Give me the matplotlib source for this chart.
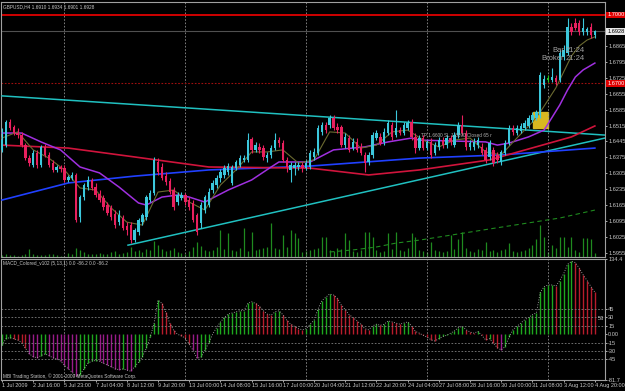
import matplotlib
matplotlib.use("Agg")
import matplotlib.pyplot as plt
import matplotlib.patches as patches
from matplotlib.transforms import blended_transform_factory

# --- GBPUSD H4 candles (1 Jul 08:00 .. 4 Aug 20:00, 153 bars) ---
opens = [1.6408, 1.6429, 1.6530, 1.6508, 1.6482, 1.6473, 1.6429, 1.6372, 1.6342, 1.6394,
         1.6342, 1.6421, 1.6386, 1.6350, 1.6320, 1.6333, 1.6328, 1.6276, 1.6285, 1.6298,
         1.6113, 1.6201, 1.6245, 1.6276, 1.6245, 1.6214, 1.6197, 1.6166, 1.6153, 1.6126,
         1.6091, 1.6109, 1.6074, 1.6078, 1.6012, 1.6048, 1.6091, 1.6113, 1.6188, 1.6219,
         1.6355, 1.6333, 1.6293, 1.6271, 1.6232, 1.6179, 1.6197, 1.6210, 1.6188, 1.6175,
         1.6122, 1.6087, 1.6144, 1.6166, 1.6232, 1.6254, 1.6285, 1.6298, 1.6311, 1.6263,
         1.6328, 1.6342, 1.6364, 1.6364, 1.6456, 1.6408, 1.6421, 1.6416, 1.6372, 1.6386,
         1.6416, 1.6451, 1.6438, 1.6364, 1.6320, 1.6328, 1.6333, 1.6342, 1.6328, 1.6333,
         1.6377, 1.6394, 1.6487, 1.6517, 1.6517, 1.6548, 1.6508, 1.6508, 1.6429, 1.6460,
         1.6416, 1.6443, 1.6421, 1.6386, 1.6355, 1.6386, 1.6460, 1.6465, 1.6443, 1.6482,
         1.6517, 1.6473, 1.6495, 1.6482, 1.6504, 1.6530, 1.6465, 1.6416, 1.6460, 1.6416,
         1.6443, 1.6394, 1.6421, 1.6451, 1.6429, 1.6460, 1.6429, 1.6473, 1.6517, 1.6482,
         1.6421, 1.6421, 1.6429, 1.6421, 1.6408, 1.6377, 1.6408, 1.6386, 1.6355, 1.6394,
         1.6438, 1.6504, 1.6482, 1.6491, 1.6504, 1.6513, 1.6539, 1.6548, 1.6561, 1.6693,
         1.6715, 1.6715, 1.6724, 1.6715, 1.6816, 1.6833, 1.6947, 1.6965, 1.6965, 1.6926,
         1.6926, 1.6947, 1.6910]
highs = [1.6504, 1.6539, 1.6544, 1.6517, 1.6504, 1.6487, 1.6438, 1.6386, 1.6408, 1.6408,
         1.6429, 1.6434, 1.6399, 1.6364, 1.6342, 1.6342, 1.6342, 1.6298, 1.6311, 1.6307,
         1.6210, 1.6263, 1.6293, 1.6285, 1.6263, 1.6232, 1.6210, 1.6179, 1.6166, 1.6144,
         1.6144, 1.6122, 1.6091, 1.6091, 1.6065, 1.6109, 1.6131, 1.6210, 1.6232, 1.6377,
         1.6372, 1.6350, 1.6311, 1.6285, 1.6245, 1.6223, 1.6223, 1.6219, 1.6201, 1.6188,
         1.6131, 1.6179, 1.6210, 1.6241, 1.6276, 1.6298, 1.6324, 1.6342, 1.6350, 1.6342,
         1.6364, 1.6386, 1.6386, 1.6482, 1.6465, 1.6443, 1.6438, 1.6429, 1.6399, 1.6429,
         1.6482, 1.6465, 1.6451, 1.6377, 1.6355, 1.6355, 1.6355, 1.6355, 1.6364, 1.6408,
         1.6416, 1.6517, 1.6530, 1.6530, 1.6561, 1.6561, 1.6526, 1.6517, 1.6482, 1.6473,
         1.6460, 1.6460, 1.6438, 1.6399, 1.6399, 1.6487, 1.6495, 1.6482, 1.6504, 1.6539,
         1.6530, 1.6583, 1.6508, 1.6530, 1.6539, 1.6544, 1.6482, 1.6473, 1.6473, 1.6451,
         1.6460, 1.6443, 1.6465, 1.6465, 1.6473, 1.6473, 1.6487, 1.6530, 1.6561, 1.6495,
         1.6451, 1.6460, 1.6465, 1.6438, 1.6421, 1.6451, 1.6421, 1.6399, 1.6408, 1.6451,
         1.6517, 1.6517, 1.6517, 1.6526, 1.6539, 1.6561, 1.6574, 1.6583, 1.6750, 1.6737,
         1.6737, 1.6767, 1.6737, 1.6846, 1.6868, 1.6987, 1.6965, 1.6987, 1.6978, 1.6987,
         1.6947, 1.6965, 1.6934]
lows = [1.6399, 1.6421, 1.6495, 1.6473, 1.6460, 1.6421, 1.6364, 1.6337, 1.6333, 1.6328,
        1.6333, 1.6377, 1.6333, 1.6311, 1.6311, 1.6311, 1.6267, 1.6267, 1.6276, 1.6091,
        1.6091, 1.6188, 1.6232, 1.6232, 1.6201, 1.6179, 1.6144, 1.6122, 1.6100, 1.6065,
        1.6078, 1.6056, 1.6034, 1.5999, 1.6004, 1.6034, 1.6078, 1.6100, 1.6179, 1.6210,
        1.6298, 1.6276, 1.6254, 1.6214, 1.6144, 1.6166, 1.6188, 1.6166, 1.6144, 1.6091,
        1.6034, 1.6065, 1.6131, 1.6157, 1.6219, 1.6241, 1.6267, 1.6285, 1.6298, 1.6254,
        1.6320, 1.6333, 1.6355, 1.6355, 1.6394, 1.6399, 1.6394, 1.6364, 1.6355, 1.6372,
        1.6408, 1.6421, 1.6355, 1.6311, 1.6267, 1.6298, 1.6320, 1.6311, 1.6320, 1.6324,
        1.6364, 1.6386, 1.6473, 1.6482, 1.6504, 1.6495, 1.6482, 1.6421, 1.6416, 1.6399,
        1.6408, 1.6399, 1.6386, 1.6311, 1.6342, 1.6372, 1.6451, 1.6429, 1.6429, 1.6473,
        1.6451, 1.6465, 1.6473, 1.6473, 1.6495, 1.6451, 1.6394, 1.6408, 1.6408, 1.6408,
        1.6372, 1.6386, 1.6408, 1.6416, 1.6416, 1.6429, 1.6421, 1.6460, 1.6473, 1.6408,
        1.6408, 1.6408, 1.6416, 1.6386, 1.6350, 1.6364, 1.6337, 1.6350, 1.6342, 1.6386,
        1.6429, 1.6473, 1.6473, 1.6482, 1.6495, 1.6504, 1.6530, 1.6539, 1.6548, 1.6680,
        1.6706, 1.6706, 1.6693, 1.6706, 1.6803, 1.6824, 1.6912, 1.6934, 1.6912, 1.6912,
        1.6912, 1.6899, 1.6901]
closes = [1.6451, 1.6530, 1.6504, 1.6482, 1.6473, 1.6429, 1.6372, 1.6350, 1.6394, 1.6342,
          1.6421, 1.6386, 1.6342, 1.6320, 1.6333, 1.6324, 1.6276, 1.6289, 1.6298, 1.6100,
          1.6201, 1.6254, 1.6276, 1.6241, 1.6210, 1.6188, 1.6157, 1.6131, 1.6113, 1.6078,
          1.6122, 1.6065, 1.6056, 1.6012, 1.6056, 1.6100, 1.6122, 1.6201, 1.6219, 1.6364,
          1.6311, 1.6285, 1.6267, 1.6223, 1.6157, 1.6210, 1.6210, 1.6179, 1.6157, 1.6100,
          1.6048, 1.6166, 1.6201, 1.6223, 1.6263, 1.6285, 1.6311, 1.6328, 1.6337, 1.6333,
          1.6355, 1.6372, 1.6372, 1.6451, 1.6408, 1.6429, 1.6408, 1.6377, 1.6386, 1.6416,
          1.6451, 1.6438, 1.6364, 1.6333, 1.6342, 1.6342, 1.6342, 1.6328, 1.6350, 1.6394,
          1.6399, 1.6504, 1.6517, 1.6495, 1.6548, 1.6504, 1.6495, 1.6429, 1.6465, 1.6408,
          1.6443, 1.6408, 1.6394, 1.6350, 1.6386, 1.6473, 1.6482, 1.6438, 1.6487, 1.6526,
          1.6465, 1.6504, 1.6482, 1.6517, 1.6526, 1.6465, 1.6416, 1.6460, 1.6416, 1.6443,
          1.6386, 1.6429, 1.6451, 1.6429, 1.6460, 1.6443, 1.6473, 1.6517, 1.6482, 1.6421,
          1.6438, 1.6443, 1.6451, 1.6394, 1.6364, 1.6438, 1.6350, 1.6364, 1.6399, 1.6438,
          1.6504, 1.6487, 1.6504, 1.6513, 1.6526, 1.6548, 1.6561, 1.6574, 1.6737, 1.6719,
          1.6724, 1.6728, 1.6706, 1.6833, 1.6846, 1.6947, 1.6926, 1.6943, 1.6926, 1.6943,
          1.6939, 1.6912, 1.6928]
volumes = [200, 300, 200, 200, 100, 200, 300, 800, 300, 200, 200, 200, 300, 300, 200, 100,
           100, 400, 300, 900, 700, 500, 300, 300, 300, 400, 300, 300, 500, 600, 300, 400,
           500, 1000, 600, 700, 500, 800, 700, 1600, 1200, 800, 600, 700, 900, 500, 400, 300,
           600, 1000, 1500, 1100, 700, 600, 700, 1000, 2700, 800, 2400, 700, 600, 900, 2900, 600,
           2500, 700, 800, 900, 1000, 3400, 900, 800, 2200, 1000, 2700, 2400, 1900, 500, 600, 700,
           800, 900, 2000, 2000, 700, 600, 900, 800, 2400, 1700, 600, 500, 700, 2500, 2500, 2000,
           700, 500, 600, 2400, 800, 2500, 700, 600, 900, 2400, 2000, 700, 600, 500, 1500, 700,
           600, 500, 600, 2200, 800, 1800, 2500, 900, 600, 500, 800, 700, 1500, 600, 700, 500,
           700, 800, 1400, 600, 500, 600, 700, 900, 1200, 1800, 3200, 2000, 500, 1200, 900, 2000,
           2000, 1000, 2000, 700, 500, 1900, 1900, 1800, 400]

# moving averages read at knot bars
fast_ma_bars = [0, 4, 8, 12, 16, 20, 24, 28, 32, 36, 40, 44, 48, 52, 56, 60, 64, 68, 72, 76, 80,
                84, 88, 92, 96, 100, 104, 108, 112, 116, 120, 124, 128, 132, 136, 138, 140, 142,
                144, 146, 148, 150, 152]
fast_ma_vals = [1.6460, 1.6487, 1.6408, 1.6372, 1.6320, 1.6241, 1.6232, 1.6153, 1.6091, 1.6078,
                1.6223, 1.6232, 1.6179, 1.6144, 1.6254, 1.6320, 1.6399, 1.6399, 1.6408, 1.6350,
                1.6364, 1.6487, 1.6482, 1.6416, 1.6429, 1.6487, 1.6495, 1.6451, 1.6421, 1.6451,
                1.6460, 1.6399, 1.6386, 1.6460, 1.6530, 1.6574, 1.6627, 1.6680, 1.6750, 1.6820,
                1.6864, 1.6890, 1.6904]
mid_ma_bars = [0, 5, 10, 15, 20, 25, 30, 35, 37, 41, 45, 48, 52, 53, 58, 64, 69, 71, 79, 85, 93,
               99, 105, 107, 124, 127, 130, 135, 139, 143, 145, 147, 149, 152]
mid_ma_vals = [1.6482, 1.6482, 1.6443, 1.6408, 1.6333, 1.6307, 1.6245, 1.6175, 1.6166, 1.6201,
               1.6210, 1.6201, 1.6179, 1.6188, 1.6232, 1.6276, 1.6333, 1.6355, 1.6355, 1.6408,
               1.6421, 1.6443, 1.6460, 1.6451, 1.6443, 1.6429, 1.6438, 1.6465, 1.6495, 1.6605,
               1.6671, 1.6728, 1.6759, 1.6789]
red_ma_bars = [0, 17, 34, 53, 79, 94, 107, 125, 146, 152]
red_ma_vals = [1.6429, 1.6416, 1.6377, 1.6333, 1.6328, 1.6298, 1.6320, 1.6364, 1.6465, 1.6513]
blue_ma_bars = [0, 17, 34, 53, 79, 107, 128, 152]
blue_ma_vals = [1.6188, 1.6263, 1.6293, 1.6320, 1.6337, 1.6372, 1.6386, 1.6416]
dash_ma_bars = [84, 90, 96, 101, 107, 125, 143, 152]
dash_ma_vals = [1.5960, 1.5969, 1.5982, 1.5999, 1.6012, 1.6061, 1.6109, 1.6144]

# trendlines (bar, price)
upper_trend = [(0, 1.6645), (154.6, 1.6473)]
lower_trend = [(32.3, 1.5990), (154.6, 1.6460)]

# MACD histogram
macd = [-20, -8, -6, -8, -10, -15, -25, -35, -40, -42, -38, -35, -38, -42, -44, -48,
        -55, -62, -68, -75, -72, -62, -52, -48, -47, -48, -52, -55, -58, -62, -63, -62,
        -64, -66, -58, -50, -40, -25, -5, 20, 61, 55, 39, 20, 7, 0, -3, -7, -18, -29, -43,
        -41, -29, -15, 0, 12, 22, 30, 36, 38, 40, 42, 42, 55, 58, 55, 50, 42, 36, 34, 40,
        42, 35, 25, 18, 14, 10, 8, 10, 18, 25, 45, 60, 66, 72, 70, 64, 52, 44, 35, 30, 24,
        18, 10, 8, 15, 18, 16, 18, 24, 22, 20, 18, 20, 22, 15, 5, 2, -2, -5, -10, -12, -8,
        -4, -2, 2, 6, 12, 14, 8, 4, 2, 5, -2, -10, -8, -16, -24, -28, -22, -5, 8, 14, 20,
        26, 30, 35, 38, 75, 85, 88, 88, 86, 96, 108, 125, 130, 128, 118, 106, 96, 85, 75]

date_labels = ["1 Jul 2009", "2 Jul 16:00", "5 Jul 23:00", "7 Jul 04:00", "8 Jul 12:00",
               "9 Jul 20:00", "13 Jul 00:00", "14 Jul 08:00", "15 Jul 16:00", "17 Jul 00:00",
               "20 Jul 04:00", "21 Jul 12:00", "22 Jul 20:00", "24 Jul 04:00", "27 Jul 08:00",
               "28 Jul 16:00", "30 Jul 00:00", "31 Jul 08:00", "3 Aug 12:00", "4 Aug 20:00"]
week_bars = [16, 47, 78, 109, 140]
price_ticks = [1.6865, 1.6795, 1.6725, 1.6655, 1.6585, 1.6515, 1.6445, 1.6375, 1.6305,
               1.6235, 1.6165, 1.6095, 1.6025, 1.5955]
macd_ticks = [134.4, 45, 30, 15, 0, -15, -30, -45, -81.7]
macd_tick_labels = ["134.4", "45", "30", "15", "0.00", "-15", "-30", "-45", "-81.7"]

plt.rcParams["font.family"] = ["Liberation Sans", "DejaVu Sans"]

BG = "#000000"
FG = "#c8c8c8"
BULL = "#3cc8dc"
BEAR = "#e8205e"
FS = 4.1
SMALL = 3.4

W, H = 625, 391
fig = plt.figure(figsize=(W / 100, H / 100), dpi=100, facecolor=BG)
ax = fig.add_axes([1 / W, 1 - 257 / H, 604 / W, 255 / H], facecolor=BG)
axm = fig.add_axes([1 / W, 1 - 380 / H, 604 / W, 121 / H], facecolor=BG, sharex=ax)

n = len(closes)
xs = list(range(n))

# volume on its own scale at the bottom of the price panel
axv = ax.twinx()
axv.set_ylim(0, 25500)
axv.vlines(xs, 0, volumes, color="#1f8a1f", lw=0.9)
axv.set_yticks([])
axv.set_zorder(0)
ax.set_zorder(1)
ax.patch.set_visible(False)
fig.patches.append(patches.Rectangle((1 / W, 1 - 257 / H), 604 / W, 255 / H,
                                     transform=fig.transFigure, color=BG, zorder=-5))

# yellow box behind the breakout bar
ax.add_patch(patches.Rectangle((136.2, 1.6504), 3.8, 0.0070, facecolor="#d8b820",
                               edgecolor="#d8b820", zorder=1))

# horizontal lines
ax.axhline(1.7000, color="#e00000", lw=1.3, zorder=2)
ax.axhline(1.6928, color="#505050", lw=0.8, zorder=2)
ax.axhline(1.6700, color="#a01010", lw=0.8, ls=(0, (1.5, 1.5)), zorder=2)
for wb in week_bars:
    ax.axvline(wb, color="#909090", lw=0.6, ls=(0, (2, 2)), zorder=1)
    axm.axvline(wb, color="#909090", lw=0.6, ls=(0, (2, 2)), zorder=1)

# trendlines
for tl in (upper_trend, lower_trend):
    ax.plot([p[0] for p in tl], [p[1] for p in tl], color="#20c0c0", lw=1.1, zorder=3)

# moving averages
ax.plot(blue_ma_bars, blue_ma_vals, color="#2040ff", lw=1.2, zorder=3)
ax.plot(red_ma_bars, red_ma_vals, color="#d0143c", lw=1.2, zorder=3)
ax.plot(mid_ma_bars, mid_ma_vals, color="#a030e0", lw=1.1, zorder=3)
ax.plot(fast_ma_bars, fast_ma_vals, color="#6b6a30", lw=0.8, zorder=3)
ax.plot(dash_ma_bars, dash_ma_vals, color="#1f8a1f", lw=0.8, ls=(0, (4, 3)), zorder=3)

# candles
for i in xs:
    up = closes[i] >= opens[i]
    col = BULL if up else BEAR
    if i == 140:
        col = "#20c020"
    ax.vlines(i, lows[i], highs[i], color=col, lw=0.8, zorder=4)
    lo, hi = min(opens[i], closes[i]), max(opens[i], closes[i])
    ax.bar(i, max(hi - lo, 0.00015), bottom=lo, width=0.62, color=col, lw=0, zorder=5)

ax.set_xlim(-0.26, 154.6)
ax.set_ylim(1.5938, 1.7057)
ax.yaxis.tick_right()
ax.set_yticks(price_ticks)
ax.set_yticklabels([f"{p:.4f}" for p in price_ticks])
ax.tick_params(axis="y", colors=FG, labelsize=FS, length=1.5, width=0.6, pad=0.8)
ax.tick_params(axis="x", bottom=False, labelbottom=False)
for s in ax.spines.values():
    s.set_color("#a0a0a0")
    s.set_linewidth(0.8)
for s in axv.spines.values():
    s.set_visible(False)

# price flags on the right axis
trans = blended_transform_factory(ax.transAxes, ax.transData)
flag = dict(transform=trans, fontsize=FS, va="center", ha="left", clip_on=False)
ax.text(1.0035, 1.7000, "1.7000", color="white",
        bbox=dict(boxstyle="square,pad=0.12", fc="#e00000", ec="none"), **flag)
ax.text(1.0035, 1.6928, "1.6928", color="black",
        bbox=dict(boxstyle="square,pad=0.12", fc="#e8e8e8", ec="none"), **flag)
ax.text(1.0035, 1.6700, "1.6700", color="white",
        bbox=dict(boxstyle="square,pad=0.12", fc="#e00000", ec="none"), **flag)

# texts
ax.text(0.004, 0.99, "GBPUSD,H4 1.6910 1.6934 1.6901 1.6928", transform=ax.transAxes,
        fontsize=SMALL, color=FG, va="top", ha="left")
ax.text(141.0, 1.6846, "Bar", fontsize=FS + 1.4, color="#a0a0a0", ha="left", va="center", zorder=6)
ax.text(144.5, 1.6846, "21:24", fontsize=FS + 1.4, color="#a0a0a0", ha="left", va="center", zorder=6)
ax.text(138.2, 1.6811, "Broker", fontsize=FS + 1.4, color="#a0a0a0", ha="left", va="center", zorder=6)
ax.text(144.5, 1.6811, "21:24", fontsize=FS + 1.4, color="#a0a0a0", ha="left", va="center", zorder=6)
ax.text(107.5, 1.6473, "TP 1.6600 SL 1.6390 Closed 65 r", fontsize=SMALL, color="#b0b0b0",
        ha="left", va="center", zorder=6)

# MACD panel
prev = macd[0]
for i, v in enumerate(macd):
    if v >= prev:
        c = "#1ea81e"
    elif v < -25:
        c = "#9a1c8a"
    else:
        c = "#b81c2c"
    prev = v
    axm.vlines(i, 0, v, color=c, lw=1.0)
axm.plot(xs, macd, color="#c0c0c0", lw=0.6, ls=(0, (1, 2)))
for lvl in (45, 30, 15, -15, -30, -45):
    axm.axhline(lvl, color="#808080", lw=0.6, ls=(0, (2, 2)))
axm.set_ylim(-81.7, 134.4)
axm.yaxis.tick_right()
axm.set_yticks(macd_ticks)
axm.set_yticklabels(macd_tick_labels)
axm.tick_params(axis="y", colors=FG, labelsize=FS, length=1.5, width=0.6, pad=0.8)
axm.set_xticks(list(range(0, n, 8)))
axm.set_xticklabels(date_labels, ha="left")
axm.tick_params(axis="x", colors=FG, labelsize=FS - 0.1, length=1.5, width=0.6, pad=0.6)
for s in axm.spines.values():
    s.set_color("#a0a0a0")
    s.set_linewidth(0.8)
axm.text(0.004, 0.985, "MACD_Colored_v102 (5,13,1) 0.0 -86.2 0.0 -86.2", transform=axm.transAxes,
         fontsize=SMALL, color=FG, va="top", ha="left")
axm.text(0.004, 0.01, "MBI Trading Station, \u00a9 2001-2009 MetaQuotes Software Corp.",
         transform=axm.transAxes, fontsize=SMALL, color=FG, va="bottom", ha="left")
axm.text(152.8, 28.6, "53", fontsize=FS, color=FG, va="center", ha="left")

fig.savefig("out.png", dpi=100, facecolor=BG)
